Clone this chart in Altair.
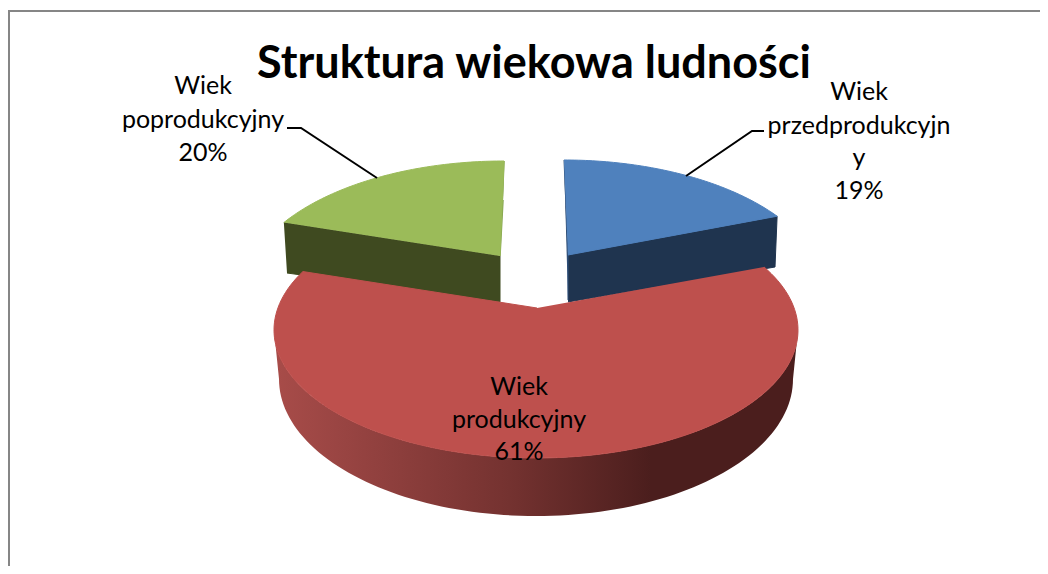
import math
import altair as alt
import pandas as pd

categories = ["Wiek przedprodukcyjny", "Wiek produkcyjny", "Wiek poprodukcyjny"]
shares = [19, 61, 20]
title_text = "Struktura wiekowa ludności"

PAD = 2
W, H = 1030, 558
X = alt.X("x:Q", axis=None, scale=alt.Scale(domain=[10, 1040], nice=False, zero=False))
Y = alt.Y("y:Q", axis=None, scale=alt.Scale(domain=[566, 8], nice=False, zero=False))

# pie projection: the exploded slices sit on ellipses, with perspective warp of the share angles
RX, RY = 261, 133


def warp(theta, k):
    return math.atan2(k * math.sin(theta), math.cos(theta))


def rim(cx, cy, rx, ry, a0, a1, n=70):
    return [(cx + rx * math.sin(a0 + (a1 - a0) * i / n),
             cy - ry * math.cos(a0 + (a1 - a0) * i / n)) for i in range(n + 1)]


def shape(points, color, stroke=None, sw=1):
    df = pd.DataFrame(points, columns=["x", "y"])
    df["i"] = range(len(df))
    return alt.Chart(df).mark_line(
        fill=color, stroke=stroke or (color if isinstance(color, str) else "transparent"),
        strokeWidth=sw, interpolate="linear").encode(x=X, y=Y, order="i:Q")


cum = [sum(shares[:i]) / 100 * 2 * math.pi for i in range(len(shares) + 1)]

# blue slice
b_end = warp(cum[1], 0.56)
blue_rim = rim(564, 293, RX, RY, 0, b_end)
blue_apex = (568, 255)
blue_wall = [blue_apex, blue_rim[-1], (775, 267), (568, 302)]
blue_top = blue_rim + [blue_apex]
# green slice
g_start = warp(cum[2], 0.51) + 2 * math.pi
green_rim = rim(504, 294, RX, RY, g_start, 2 * math.pi)
green_apex = (500, 256)
green_wall = [green_rim[0], green_apex, (500, 302), (287, 273)]
green_top = green_rim + [green_apex]
# red slice
r_start = warp(cum[1], 0.70)
r_end = warp(cum[2], 0.633) + 2 * math.pi
red_rim = rim(536, 330, 262, 128, r_start, r_end, 140)
red_top = red_rim + [(537, 308)]
wall_upper = rim(536, 330, 262, 128, math.pi / 2, 3 * math.pi / 2, 100)
wall_lower = rim(536, 379, 257, 137, 3 * math.pi / 2, math.pi / 2, 100)
red_wall = wall_upper + wall_lower

gradient = alt.Gradient(
    gradient="linear", x1=0, x2=1, y1=0, y2=0,
    stops=[alt.GradientStop(color="#A84C49", offset=0),
           alt.GradientStop(color="#9A4543", offset=0.12),
           alt.GradientStop(color="#743230", offset=0.45),
           alt.GradientStop(color="#4B1E1D", offset=0.72),
           alt.GradientStop(color="#4B1E1D", offset=1)])

layers = [
    shape(blue_wall, "#1F344F"),
    shape([(564, 160), blue_apex, (568, 300)], "#2F4F78", sw=1),
    shape(blue_top, "#4F81BD"),
    shape(green_wall, "#3F4A20"),
    shape([(504, 161), green_apex, (503, 200)], "#83A24F", sw=1.5),
    shape(green_top, "#9BBB59"),
    shape(red_wall, gradient, stroke="transparent"),
    shape(red_top, "#BE504D"),
]

# leader lines
layers.append(alt.Chart(pd.DataFrame(
    {"x": [686, 752, 764], "y": [176, 131, 131], "i": [0, 1, 2]})).mark_line(
    color="black", strokeWidth=2).encode(x=X, y=Y, order="i:Q"))
layers.append(alt.Chart(pd.DataFrame(
    {"x": [377, 301, 287], "y": [178, 128, 128], "i": [0, 1, 2]})).mark_line(
    color="black", strokeWidth=2).encode(x=X, y=Y, order="i:Q"))

# chart frame: only the top and left edges fall inside the picture
frame = pd.DataFrame({"x": [9, 9, 1040], "y": [566, 11, 11], "i": range(3)})
layers.insert(0, alt.Chart(frame).mark_line(color="#868686", strokeWidth=2).encode(x=X, y=Y, order="i:Q"))

# texts
FONT = "Lato"
labels = pd.DataFrame([
    {"x": 203, "y": 86, "t": categories[2].split()[0]},
    {"x": 203, "y": 120, "t": categories[2].split()[1]},
    {"x": 203, "y": 153, "t": f"{shares[2]}%"},
    {"x": 859, "y": 92, "t": categories[0].split()[0]},
    {"x": 859, "y": 126, "t": categories[0].split()[1][:-1]},
    {"x": 859, "y": 158, "t": categories[0].split()[1][-1]},
    {"x": 859, "y": 191, "t": f"{shares[0]}%"},
    {"x": 519, "y": 387, "t": categories[1].split()[0]},
    {"x": 519, "y": 420, "t": categories[1].split()[1]},
    {"x": 519, "y": 452, "t": f"{shares[1]}%"},
])
layers.append(alt.Chart(labels).mark_text(
    font=FONT, fontSize=25, color="black", align="center", baseline="middle").encode(
    x=X, y=Y, text="t:N"))
layers.append(alt.Chart(pd.DataFrame({"x": [534], "y": [64], "t": [title_text]})).mark_text(
    font=FONT, fontWeight="bold", fontSize=45, color="black", align="center",
    baseline="middle").encode(x=X, y=Y, text="t:N"))

chart = alt.layer(*layers).properties(
    width=W, height=H, padding={"left": PAD, "top": 0, "right": 0, "bottom": 0},
    autosize=alt.AutoSizeParams(type="none"),
    background="white").configure_view(stroke=None)
chart.save("out.html", embed_options={"renderer": "svg", "actions": False})
